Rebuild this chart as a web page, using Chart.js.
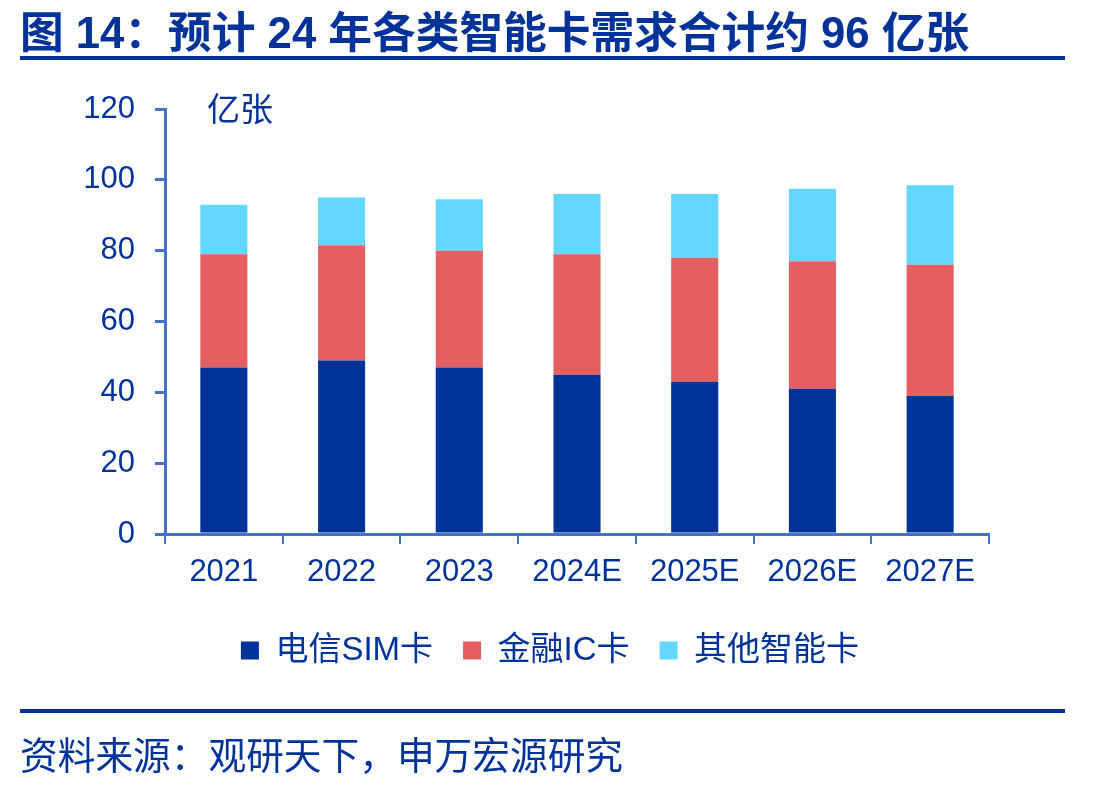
<!DOCTYPE html>
<html>
<head>
<meta charset="utf-8">
<script src="https://cdn.jsdelivr.net/npm/chart.js@4.4.1/dist/chart.umd.min.js"></script>
<style>
  body { margin: 0; background: #fff; }
  #wrap { position: relative; width: 1100px; height: 787px; overflow: hidden; }
  #title { position: absolute; left: 20px; top: -3px; font: bold 43.7px 'Liberation Sans', 'Noto Sans CJK SC', sans-serif; color: #003399; white-space: nowrap; }
  .rule { position: absolute; left: 20px; width: 1045px; height: 4px; background: #003399; }
  #unit { position: absolute; left: 207px; top: 83px; font: 33px 'Noto Sans CJK SC', sans-serif; color: #003399; }
  #source { position: absolute; left: 20px; top: 725px; font: 37.7px 'Noto Sans CJK SC', sans-serif; color: #003399; white-space: nowrap; }
  canvas { position: absolute; left: 0; top: 0; }
</style>
</head>
<body>
<div id="wrap">
  <canvas id="chart" width="1100" height="787"></canvas>
  <div id="title">图 14：预计 24 年各类智能卡需求合计约 96 亿张</div>
  <div class="rule" style="top:56px"></div>
  <div id="unit">亿张</div>
  <div class="rule" style="top:709px"></div>
  <div id="source">资料来源：观研天下，申万宏源研究</div>
</div>
<script>
const years = ['2021', '2022', '2023', '2024E', '2025E', '2026E', '2027E']
const simCards = [47, 49, 47, 45, 43, 41, 39]
const icCards = [32, 32.5, 33, 34, 35, 36, 37]
const otherCards = [14, 13.5, 14.5, 17, 18, 20.5, 22.5]
const yTicks = [0, 20, 40, 60, 80, 100, 120]

const darkBlue = '#003399'
const axisBlue = '#4472C4'
const fontFamily = "'Liberation Sans', 'Noto Sans CJK SC', sans-serif"

const dataChart = {
    labels: years,
    datasets: [
        { label: '电信SIM卡', data: simCards, backgroundColor: '#003399' },
        { label: '金融IC卡', data: icCards, backgroundColor: '#E55F60' },
        { label: '其他智能卡', data: otherCards, backgroundColor: '#63D6FE' },
    ]
}

// move the legend so it sits centred on the page, not on the padded box
const centreLegend = {
    id: 'centreLegend',
    afterLayout(chart) {
        const shift = (chart.width - (chart.legend.left + chart.legend.right)) / 2
        chart.legend.left += shift
        chart.legend.right += shift
    }
}

const config = {
    type: 'bar',
    data: dataChart,
    plugins: [centreLegend],
    options: {
        responsive: false,
        animation: false,
        barPercentage: 0.4,
        categoryPercentage: 1,
        layout: { padding: { left: 0, right: 111, top: 109, bottom: 110 } },
        plugins: {
            tooltip: { enabled: false },
            legend: {
                position: 'bottom',
                labels: {
                    boxWidth: 18,
                    boxHeight: 18,
                    padding: 30,
                    color: darkBlue,
                    font: { size: 33, family: fontFamily },
                }
            }
        },
        scales: {
            x: {
                stacked: true,
                afterFit: (scale) => { scale.height = 70 },
                border: { display: true, color: axisBlue, width: 3 },
                grid: { drawOnChartArea: false, drawTicks: true, tickLength: 10, color: axisBlue, lineWidth: 2 },
                ticks: { color: darkBlue, padding: 10, font: { size: 31, family: fontFamily } }
            },
            y: {
                stacked: true,
                min: 0,
                max: 120,
                afterFit: (scale) => { scale.width = 165 },
                afterBuildTicks: (scale) => { scale.ticks = yTicks.map(v => ({ value: v })) },
                border: { display: true, color: axisBlue, width: 3 },
                grid: { drawOnChartArea: false, drawTicks: true, tickLength: 10, color: axisBlue, lineWidth: 3 },
                ticks: { color: darkBlue, padding: 20, font: { size: 31, family: fontFamily } }
            }
        }
    }
}

const myChart = new Chart(document.getElementById('chart'), config)
</script>
</body>
</html>
